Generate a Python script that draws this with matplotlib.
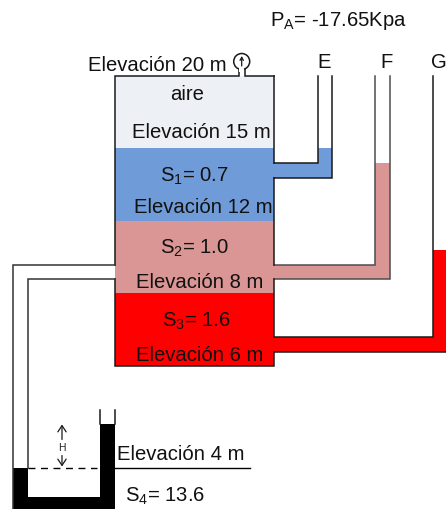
import matplotlib
matplotlib.use('Agg')
import matplotlib.pyplot as plt
from matplotlib.patches import Rectangle, Circle

plt.rcParams['font.family'] = ['Liberation Sans', 'DejaVu Sans']
plt.rcParams['mathtext.default'] = 'regular'

# layers of the tank, top to bottom
LAYER_NAMES = ['aire', 'S1', 'S2', 'S3']
LAYER_TOPS = [76, 148, 221, 293]
LAYER_BOTTOMS = [148, 221, 293, 366]
LAYER_COLORS = ['#edf0f5', '#6f9cd9', '#d99694', '#ff0000']

# piezometer tubes: left wall, right wall, liquid level, pipe top, pipe bottom
TUBE_NAMES = ['E', 'F', 'G']
TUBE_LEFT = [317.5, 375, 433]
TUBE_RIGHT = [331.5, 389.5, 447]
TUBE_LEVEL = [148, 163, 250]
PIPE_TOP = [163.5, 265, 337.5]
PIPE_BOTTOM = [178, 279.5, 352]
TUBE_COLORS = ['#6f9cd9', '#d99694', '#ff0000']
TUBE_LINE = ['#1a1a1a', '#4d4d4d', '#1a1a1a']

TANK_LEFT = 115
TANK_RIGHT = 274

LABELS = [
    ('Elevación 20 m', 157.5, 65),
    ('aire', 187, 94),
    ('Elevación 15 m', 201, 132.5),
    ('S$_1$= 0.7', 194, 176),
    ('Elevación 12 m', 203, 207),
    ('S$_2$= 1.0', 194, 248),
    ('Elevación 8 m', 200, 282.5),
    ('S$_3$= 1.6', 196, 321),
    ('Elevación 6 m', 200, 355),
    ('Elevación 4 m', 181, 454),
    ('S$_4$= 13.6', 165, 496),
    ('P$_A$= -17.65Kpa', 338, 20),
    ('E', 324, 62),
    ('F', 387, 62),
    ('G', 438.5, 62),
]


def wall(ax, xs, ys, color='#1a1a1a', lw=1.1):
    ax.plot(xs, ys, color=color, lw=lw, solid_capstyle='projecting', solid_joinstyle='miter', zorder=3)


def block(ax, x0, y0, x1, y1, color, zorder=1):
    ax.add_patch(Rectangle((x0, y0), x1 - x0, y1 - y0, fc=color, ec='none', zorder=zorder))


fig = plt.figure(figsize=(4.46, 5.10), dpi=100)
ax = fig.add_axes([0, 0, 1, 1])
ax.set_xlim(0, 446)
ax.set_ylim(509.5, -0.5)
ax.axis('off')

for top, bottom, color in zip(LAYER_TOPS, LAYER_BOTTOMS, LAYER_COLORS):
    block(ax, TANK_LEFT, top, TANK_RIGHT, bottom, color)

for i in range(3):
    block(ax, TUBE_LEFT[i], TUBE_LEVEL[i], TUBE_RIGHT[i], PIPE_BOTTOM[i], TUBE_COLORS[i])
    block(ax, TANK_RIGHT - 1, PIPE_TOP[i], TUBE_RIGHT[i], PIPE_BOTTOM[i], TUBE_COLORS[i])
    wall(ax, [TUBE_LEFT[i], TUBE_LEFT[i], TANK_RIGHT], [76, PIPE_TOP[i], PIPE_TOP[i]], TUBE_LINE[i])
    wall(ax, [TUBE_RIGHT[i], TUBE_RIGHT[i], TANK_RIGHT], [76, PIPE_BOTTOM[i], PIPE_BOTTOM[i]], TUBE_LINE[i])

# tank outline, with gaps where the pipes come in
wall(ax, [TANK_RIGHT, TANK_RIGHT], [76, PIPE_TOP[0]])
wall(ax, [TANK_RIGHT, TANK_RIGHT], [PIPE_BOTTOM[0], PIPE_TOP[1]])
wall(ax, [TANK_RIGHT, TANK_RIGHT], [PIPE_BOTTOM[1], PIPE_TOP[2]])
wall(ax, [TANK_RIGHT, TANK_RIGHT, TANK_LEFT, TANK_LEFT], [PIPE_BOTTOM[2], 366, 366, 279.5])
wall(ax, [TANK_LEFT, TANK_LEFT, 238.5, 238.5], [265, 76, 76, 69])
wall(ax, [TANK_RIGHT, 245, 245], [76, 76, 69])

# gauge
ax.add_patch(Circle((241.7, 62), 8, fc='white', ec='#1a1a1a', lw=1.1, zorder=4))
block(ax, 239.3, 68, 244.2, 72, 'white', zorder=5)
ax.annotate('', xy=(241.7, 56.5), xytext=(241.7, 66.5), zorder=6,
            arrowprops=dict(arrowstyle='->,head_width=0.12,head_length=0.22', color='#1a1a1a', lw=0.9, shrinkA=0, shrinkB=0))

# mercury manometer on the left
block(ax, 13, 468, 28, 511, '#000000')
block(ax, 13, 497, 115, 511, '#000000')
block(ax, 100, 424, 115, 511, '#000000')
wall(ax, [TANK_LEFT, 13, 13], [265, 265, 510], '#333333')
wall(ax, [TANK_LEFT, 28, 28], [279.5, 279.5, 468], '#333333')
wall(ax, [100, 100], [410, 424], '#1a1a1a')
wall(ax, [115, 115], [410, 424], '#1a1a1a')
ax.plot([28, 97], [468, 468], color='black', lw=1, dashes=(5, 4), zorder=3)
ax.plot([115, 250], [468, 468], color='black', lw=1, zorder=3)
for y0, y1 in [(440, 425), (456, 467)]:
    ax.annotate('', xy=(62, y1), xytext=(62, y0), zorder=3,
                arrowprops=dict(arrowstyle='->,head_width=0.3,head_length=0.45', color='#1a1a1a', lw=0.9, shrinkA=0, shrinkB=0))
ax.text(62, 448, 'H', fontsize=7.5, ha='center', va='center', color='#222222')

for text, x, y in LABELS:
    ax.text(x, y, text, fontsize=14.6, ha='center', va='center', color='#111111', zorder=7)

fig.savefig('out.png', dpi=100)
